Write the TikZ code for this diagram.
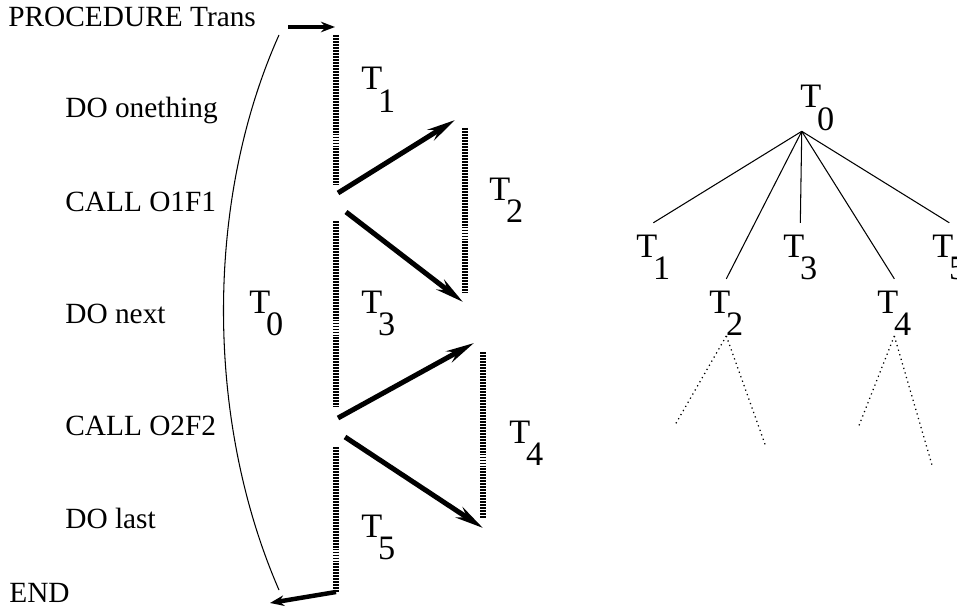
\documentclass[tikz,border=0pt]{standalone}
\usepackage{fontspec}
\setmainfont{Liberation Serif}
\usetikzlibrary{arrows.meta}
\newcommand{\tlab}[1]{T\kern-0.12em\raisebox{-0.66em}{#1}}

\begin{document}
\begin{tikzpicture}[x=0.02cm,y=-0.02cm,
  code/.style={anchor=base west,inner sep=0pt,font=\fontsize{16.7}{20}\selectfont},
  tl/.style={anchor=base west,inner sep=0pt,font=\fontsize{19.5}{23}\selectfont},
  thread/.style={line width=0.11cm,dash pattern=on 1.1pt off 0.6pt},
  jump/.style={line width=0.1cm,-{Stealth[length=16pt,width=7pt]}},
  hop/.style={line width=0.09cm,-{Stealth[length=8pt,width=6pt]}},
  edge/.style={line width=0.6pt},
  sub/.style={dotted,line width=0.7pt}]
  \useasboundingbox (0,0) rectangle (957,608);
  % program text
  \node[code] (proc) at (8,27) {PROCEDURE Trans};
  \node[code] (do1) at (65,118) {DO onething};
  \node[code] (call1) at (65,212) {CALL O1F1};
  \node[code] (do2) at (65,323) {DO next};
  \node[code] (call2) at (65,435) {CALL O2F2};
  \node[code] (do3) at (65,528) {DO last};
  \node[code] (fin) at (9,602) {END};
  % points of the control flow
  \coordinate (in) at (288,27);
  \coordinate (m0) at (336,35);
  \coordinate (m1) at (336,185);
  \coordinate (m2) at (336,221);
  \coordinate (m3) at (336,407);
  \coordinate (m4) at (336,447);
  \coordinate (m5) at (336,592);
  \coordinate (out) at (270,603);
  \coordinate (c1a) at (465,128);
  \coordinate (c1b) at (465,293);
  \coordinate (c2a) at (483,352);
  \coordinate (c2b) at (483,518);
  \coordinate (top) at (279,35);
  \coordinate (bot) at (279,590);
  % whole transaction
  \draw[edge] (top) .. controls (205,200) and (205,420) .. (bot);
  % threads
  \draw[thread] (m0) -- (m1);
  \draw[thread] (m2) -- (m3);
  \draw[thread] (m4) -- (m5);
  \draw[thread] (c1a) -- (c1b);
  \draw[thread] (c2a) -- (c2b);
  % calls and returns
  \draw[hop] (in) -- (335,27);
  \draw[hop] (m5) -- (out);
  \draw[jump] (338,193) -- (455,120);
  \draw[jump] (346,212) -- (463,302);
  \draw[jump] (338,418) -- (474,343);
  \draw[jump] (345,437) -- (483,528);
  % labels
  \node[tl] (l0) at (249,313) {\tlab{0}};
  \node[tl] (l1) at (361,90) {\tlab{1}};
  \node[tl] (l2) at (489,200) {\tlab{2}};
  \node[tl] (l3) at (361,313) {\tlab{3}};
  \node[tl] (l4) at (509,443) {\tlab{4}};
  \node[tl] (l5) at (361,537) {\tlab{5}};
  % tree
  \node[tl] (t0) at (800,108) {\tlab{0}};
  \node[tl] (t1) at (636,257) {\tlab{1}};
  \node[tl] (t2) at (709,313) {\tlab{2}};
  \node[tl] (t3) at (783,257) {\tlab{3}};
  \node[tl] (t4) at (877,313) {\tlab{4}};
  \node[tl] (t5) at (932,257) {\tlab{5}};
  \coordinate (apex) at ([xshift=1pt]t0.south west);
  \foreach \c in {t1,t2,t3,t4,t5}
    \draw[edge] (apex) -- ([yshift=6.5pt]\c.north);
  \coordinate (e1) at (675,425);
  \coordinate (e2) at (766,447);
  \coordinate (e3) at (858,428);
  \coordinate (e4) at (932,465);
  \draw[sub] (t2.south) -- (e1);
  \draw[sub] (t2.south) -- (e2);
  \draw[sub] (t4.south) -- (e3);
  \draw[sub] (t4.south) -- (e4);
\end{tikzpicture}
\end{document}
